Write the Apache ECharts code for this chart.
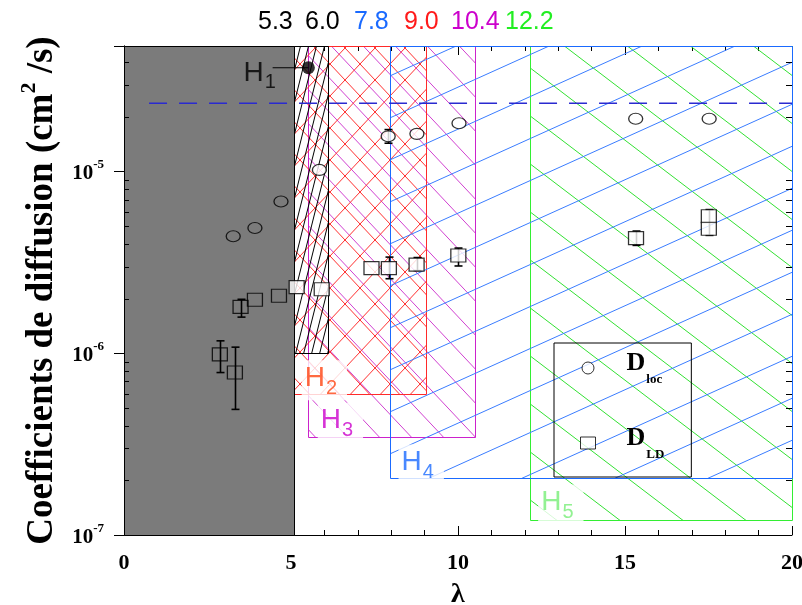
<!DOCTYPE html>
<html><head><meta charset="utf-8">
<script src="https://cdn.jsdelivr.net/npm/echarts@6/dist/echarts.min.js"></script>
<style>html,body{margin:0;padding:0;background:#fff}#c{width:802px;height:605px}</style>
</head><body><div id="c"></div>
<script>
// ---------- data ----------
const yMin = 1e-7, yMax = 4.9e-5;
const xTicks = [0, 5, 10, 15, 20];
const yMinorTicks = [2e-7, 3e-7, 4e-7, 5e-7, 6e-7, 7e-7, 8e-7, 9e-7,
                     2e-6, 3e-6, 4e-6, 5e-6, 6e-6, 7e-6, 8e-6, 9e-6,
                     2e-5, 3e-5, 4e-5];

const locLambda = [3.27, 3.92, 4.70, 5.85, 7.91, 8.77, 10.03, 15.32, 17.52];
const locD      = [4.40e-6, 4.89e-6, 6.84e-6, 1.02e-5, 1.56e-5, 1.61e-5, 1.84e-5, 1.95e-5, 1.95e-5];

const ldLambda = [2.87, 3.32, 3.49, 3.92, 4.64, 5.17, 5.92, 7.41, 7.93, 8.76, 10.01, 15.33, 17.51, 17.51];
const ldD      = [9.85e-7, 7.83e-7, 1.80e-6, 1.97e-6, 2.07e-6, 2.31e-6, 2.25e-6, 2.94e-6, 2.94e-6, 3.07e-6, 3.45e-6, 4.30e-6, 5.67e-6, 4.84e-6];

const errLambda = [2.87, 3.32, 3.49, 7.91, 7.93, 8.76, 10.01, 15.33, 17.51];
const errLow    = [7.83e-7, 4.91e-7, 1.58e-6, 1.43e-5, 2.57e-6, 2.85e-6, 3.02e-6, 3.92e-6, 4.45e-6];
const errHigh   = [1.17e-6, 1.08e-6, 1.98e-6, 1.70e-5, 3.38e-6, 3.36e-6, 3.79e-6, 4.70e-6, 6.17e-6];

const h1Lambda = [5.52], h1D = [3.72e-5];
const leaderLambda = [4.45, 5.52], leaderD = 3.72e-5;
const dashLambda = [0.75, 20], dashD = 2.37e-5;

const regionNames = ['H1', 'H2', 'H3', 'H4', 'H5', 'gray'];
const regionX0    = [5.10, 5.10, 5.50, 7.97, 12.16, 0];
const regionX1    = [6.10, 9.03, 10.50, 20, 20, 5.10];
const regionDLow  = [1.0e-6, 5.93e-7, 3.47e-7, 2.06e-7, 1.21e-7, 1e-7];

const hLabelSub    = ['1', '2', '3', '4', '5'];
const hLabelLambda = [3.58, 5.32, 5.80, 8.22, 12.40];
const hLabelD      = [3.36e-5, 7.11e-7, 4.15e-7, 2.44e-7, 1.47e-7];

const topLabels = ['5.3', '6.0', '7.8', '9.0', '10.4', '12.2'];

// ---------- styles ----------
const topColors = ['#000', '#000', '#1a6aff', '#ff1a1a', '#cc00cc', '#22ee22'];
const topWidths = [47, 49, 50, 47, 54, 50];
const hColors = ['#000', '#ff4411', '#cc00cc', '#1a6aff', '#77ee77'];

function makeCanvas(w, h) { const c = document.createElement('canvas'); c.width = w; c.height = h; return c; }
function hatch(w, h, color, dirs, lw) {
  const c = makeCanvas(w, h), ctx = c.getContext('2d');
  ctx.strokeStyle = color; ctx.lineWidth = lw || 1;
  dirs.forEach(d => {
    for (let ox = -1; ox <= 1; ox++) for (let oy = -1; oy <= 1; oy++) {
      ctx.beginPath();
      if (d === '/') { ctx.moveTo(ox * w, h + oy * h); ctx.lineTo(w + ox * w, oy * h); }
      else { ctx.moveTo(ox * w, oy * h); ctx.lineTo(w + ox * w, h + oy * h); }
      ctx.stroke();
    }
  });
  return { image: c, repeat: 'repeat' };
}
const regionFill = [
  hatch(8, 32, '#000', ['/']),
  hatch(30, 32, '#ff3030', ['/', '\\']),
  hatch(32, 34, '#d040d0', ['\\']),
  hatch(93, 42, '#3a7cff', ['/']),
  hatch(63, 48, '#33e033', ['\\']),
  '#7b7b7b'
];
const regionStroke = ['#000', '#ff2a2a', '#cc22cc', '#1a6aff', '#33ee33', '#000'];
const regionZ = [5, 3, 1, 4, 0, 6];

const ellipsePath = 'path://M0,50A50,50 0 1,1 100,50A50,50 0 1,1 0,50Z';
const grayEnd = regionX1[5];
const symFill = p => (p.value[0] > grayEnd ? '#fff' : 'rgba(0,0,0,0)');

const serif = 'Liberation Serif';
const sans = 'Liberation Sans';

const chart = echarts.init(document.getElementById('c'), null, { renderer: 'canvas' });

function isDecade(v) { const l = Math.log10(v); return Math.abs(l - Math.round(l)) < 1e-6; }

const option = {
  animation: false,
  backgroundColor: '#fff',
  title: {
    text: topLabels.map((t, i) => `{t${i}|${t}}`).join(''),
    left: 258, top: 10, padding: 0,
    textStyle: {
      fontWeight: 'normal',
      rich: Object.fromEntries(topLabels.map((t, i) => ['t' + i,
        { color: topColors[i], fontFamily: sans, fontWeight: 'normal', fontSize: 25, width: topWidths[i], align: 'left' }]))
    }
  },
  grid: { left: 124, right: 10, top: 46, bottom: 70, containLabel: false, outerBoundsMode: 'none' },
  legend: {
    orient: 'vertical', left: 554, top: 343,
    padding: [7, 27, 16, 26], itemGap: 39, itemWidth: 15, itemHeight: 12,
    borderColor: '#000', borderWidth: 1,
    data: [{ name: 'loc', icon: ellipsePath }, { name: 'LD', icon: 'rect' }],
    itemStyle: { color: '#fff', borderColor: '#000', borderWidth: 1 },
    formatter: n => `{d|D}{s|${n}}`,
    textStyle: {
      rich: {
        d: { fontFamily: serif, fontWeight: 'bold', fontSize: 26, color: '#000', verticalAlign: 'top', padding: [0, 0, 0, 26] },
        s: { fontFamily: serif, fontWeight: 'bold', fontSize: 13, color: '#000', verticalAlign: 'top', padding: [23, 0, 0, 1] }
      }
    }
  },
  xAxis: [
    {
      type: 'value', min: xTicks[0], max: xTicks[xTicks.length - 1], interval: 5, position: 'bottom',
      name: 'λ', nameLocation: 'middle', nameGap: 46,
      nameTextStyle: { fontFamily: serif, fontWeight: 'bold', fontSize: 28, color: '#000' },
      axisLine: { lineStyle: { color: '#000', width: 1 } },
      axisTick: { inside: true, length: 9, lineStyle: { color: '#000' } },
      minorTick: { show: true, splitNumber: 5, length: 5, lineStyle: { color: '#000' } },
      splitLine: { show: false },
      axisLabel: { margin: 17, fontFamily: serif, fontWeight: 'bold', fontSize: 22, color: '#000' }
    },
    {
      type: 'value', min: xTicks[0], max: xTicks[xTicks.length - 1], interval: 5, position: 'top',
      axisLine: { lineStyle: { color: '#000', width: 1 } },
      axisTick: { inside: true, length: 9, lineStyle: { color: '#000' } },
      minorTick: { show: true, splitNumber: 5, length: 5, lineStyle: { color: '#000' } },
      splitLine: { show: false }, axisLabel: { show: false }
    }
  ],
  yAxis: [
    {
      type: 'log', logBase: 10, min: yMin, max: yMax, position: 'left',
      name: '{m|Coefficients de diffusion (cm}{p|2}{m| /s)}',
      nameLocation: 'middle', nameGap: 63, nameRotate: 90,
      nameTextStyle: {
        color: '#000',
        rich: {
          m: { fontFamily: serif, fontWeight: 'bold', fontSize: 37, color: '#000', verticalAlign: 'top', padding: [6, 0, 0, 0] },
          p: { fontFamily: serif, fontWeight: 'bold', fontSize: 22, color: '#000', verticalAlign: 'top' }
        }
      },
      axisLine: { lineStyle: { color: '#000', width: 1 } },
      axisTick: { inside: true, length: 10, lineStyle: { color: '#000' } },
      splitLine: { show: false },
      axisLabel: {
        margin: 20,
        formatter: v => isDecade(v) ? `{b|10}{e|${Math.round(Math.log10(v))}}` : '',
        rich: {
          b: { fontFamily: serif, fontWeight: 'bold', fontSize: 21, color: '#000', verticalAlign: 'top', padding: [5, 0, 0, 0] },
          e: { fontFamily: serif, fontWeight: 'bold', fontSize: 13, color: '#000', verticalAlign: 'top' }
        }
      }
    },
    {
      type: 'log', logBase: 10, min: yMin, max: yMax, position: 'right',
      axisLine: { show: true, lineStyle: { color: '#000', width: 1 } },
      axisTick: { show: true, inside: true, length: 10, lineStyle: { color: '#000' } },
      splitLine: { show: false }, axisLabel: { show: false }
    }
  ],
  series: [
    {
      type: 'custom', name: 'regions', z: 1, silent: true,
      encode: { x: [0, 1], y: [2, 3] },
      data: regionNames.map((n, i) => [regionX0[i], regionX1[i], regionDLow[i], yMax]),
      renderItem: (params, api) => {
        const i = params.dataIndex;
        const p0 = api.coord([api.value(0), api.value(3)]);
        const p1 = api.coord([api.value(1), api.value(2)]);
        const x0 = Math.round(p0[0]) + 0.5, y0 = Math.round(p0[1]) + 0.5;
        const x1 = Math.round(p1[0]) + 0.5, y1 = Math.round(p1[1]) + 0.5;
        return {
          type: 'rect', z2: regionZ[i],
          shape: { x: x0, y: y0, width: x1 - x0, height: y1 - y0 },
          style: { fill: regionFill[i], stroke: regionStroke[i], lineWidth: 1 }
        };
      }
    },
    {
      type: 'custom', name: 'yMinorTicks', z: 2, silent: true,
      encode: { y: 0 },
      data: yMinorTicks.map(v => [v]),
      renderItem: (params, api) => {
        const l = api.coord([xTicks[0], api.value(0)]);
        const r = api.coord([xTicks[xTicks.length - 1], api.value(0)]);
        const y = Math.round(l[1]) + 0.5;
        const st = { stroke: '#000', lineWidth: 1 };
        return {
          type: 'group', children: [
            { type: 'line', shape: { x1: l[0], y1: y, x2: l[0] + 5, y2: y }, style: st },
            { type: 'line', shape: { x1: r[0], y1: y, x2: r[0] - 6, y2: y }, style: st }
          ]
        };
      }
    },
    {
      type: 'line', name: 'dashed', z: 3, silent: true, symbol: 'none',
      data: dashLambda.map(x => [x, dashD]),
      lineStyle: { color: '#2a2ad0', width: 1.5, type: [18, 12] }
    },
    {
      type: 'line', name: 'leader', z: 3, silent: true, symbol: 'none',
      data: leaderLambda.map(x => [x, leaderD]),
      lineStyle: { color: '#000', width: 1.2 }
    },
    {
      type: 'custom', name: 'errors', z: 4, silent: true,
      encode: { x: 0, y: [1, 2] },
      data: errLambda.map((x, i) => [x, errLow[i], errHigh[i]]),
      renderItem: (params, api) => {
        const lo = api.coord([api.value(0), api.value(1)]);
        const hi = api.coord([api.value(0), api.value(2)]);
        const x = Math.round(lo[0]) + 0.5, cw = 4;
        const st = { stroke: '#000', lineWidth: 1.6 };
        return {
          type: 'group', children: [
            { type: 'line', shape: { x1: x, y1: lo[1], x2: x, y2: hi[1] }, style: st },
            { type: 'line', shape: { x1: x - cw, y1: lo[1], x2: x + cw, y2: lo[1] }, style: st },
            { type: 'line', shape: { x1: x - cw, y1: hi[1], x2: x + cw, y2: hi[1] }, style: st }
          ]
        };
      }
    },
    {
      type: 'scatter', name: 'loc', z: 6,
      symbol: ellipsePath, symbolSize: [14, 11],
      data: locLambda.map((x, i) => [x, locD[i]]),
      itemStyle: { color: symFill, borderColor: '#000', borderWidth: 1.2 }
    },
    {
      type: 'scatter', name: 'LD', z: 6,
      symbol: 'rect', symbolSize: [15, 13],
      data: ldLambda.map((x, i) => [x, ldD[i]]),
      itemStyle: { color: symFill, borderColor: '#000', borderWidth: 1.2 }
    },
    {
      type: 'scatter', name: 'H1dot', z: 7, symbol: 'circle', symbolSize: 13,
      data: h1Lambda.map((x, i) => [x, h1D[i]]),
      itemStyle: { color: '#000' }
    },
    {
      type: 'scatter', name: 'Hlabels', z: 5, symbol: 'circle', symbolSize: 0, silent: true,
      data: hLabelSub.map((t, i) => ({
        value: [hLabelLambda[i], hLabelD[i]],
        label: {
          show: true, position: 'right', distance: 0,
          formatter: `{h|H}{s|${t}}`,
          backgroundColor: i === 0 ? 'transparent' : '#fff',
          padding: i === 0 ? 0 : [4, 10, 2, 3],
          rich: {
            h: { fontFamily: sans, fontSize: 28, color: hColors[i], verticalAlign: 'top' },
            s: { fontFamily: sans, fontSize: 20, color: hColors[i], verticalAlign: 'top', padding: [14, 0, 0, 1] }
          }
        }
      }))
    }
  ]
};
chart.setOption(option);
</script>
</body></html>
